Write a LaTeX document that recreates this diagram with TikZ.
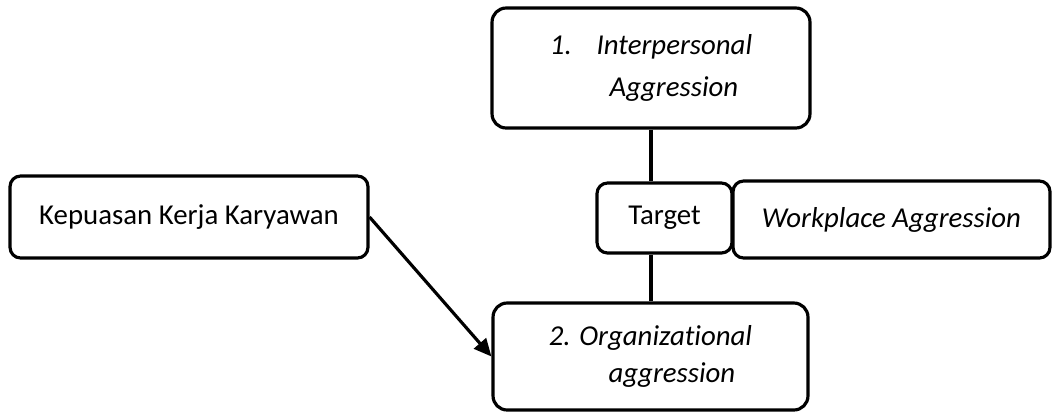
\documentclass[tikz,border=0pt]{standalone}
\usepackage{fontspec}
\setmainfont{Carlito}[Ligatures=NoCommon]
\usetikzlibrary{arrows.meta}

\begin{document}
\begin{tikzpicture}[x=0.02cm, y=-0.02cm,
    box/.style={draw, line width=1.8pt, rounded corners=8pt, inner sep=0pt,
                font=\fontsize{16.4}{24}\selectfont},
    link/.style={line width=1.8pt},
    arr/.style={line width=1.8pt, -{Triangle[length=10pt,width=9pt]}}]
  \useasboundingbox (0,0) rectangle (1052,414);

  \node[box, minimum width=6.36cm, minimum height=2.4cm, align=left] (inter) at (651,68)
    {\itshape\makebox[26.6pt][l]{1.}Interpersonal\\\hspace*{34pt}\itshape Aggression};
  \node[box, rounded corners=6pt, minimum width=7.16cm, minimum height=1.64cm] (kepuasan) at (189,217)
    {\raisebox{2pt}{Kepuasan Kerja Karyawan}};
  \node[box, rounded corners=6pt, minimum width=2.7cm, minimum height=1.4cm] (target) at (664.5,218)
    {Target};
  \node[box, rounded corners=6pt, minimum width=6.34cm, minimum height=1.54cm] (workplace) at (891.5,219.5)
    {\itshape Workplace Aggression};
  \node[box, minimum width=6.3cm, minimum height=2.14cm, align=left,
        font=\fontsize{16.4}{22.7}\selectfont] (org) at (650.5,356.5)
    {\raisebox{-2pt}{\itshape 2. Organizational}\\\hspace*{34pt}\itshape aggression};

  \draw[link] (inter.south) -- (inter.south |- target.north);
  \draw[link] (target.south -| inter.south) -- (org.north -| inter.south);
  \draw[arr] (kepuasan.east) -- (org.west);
\end{tikzpicture}
\end{document}
